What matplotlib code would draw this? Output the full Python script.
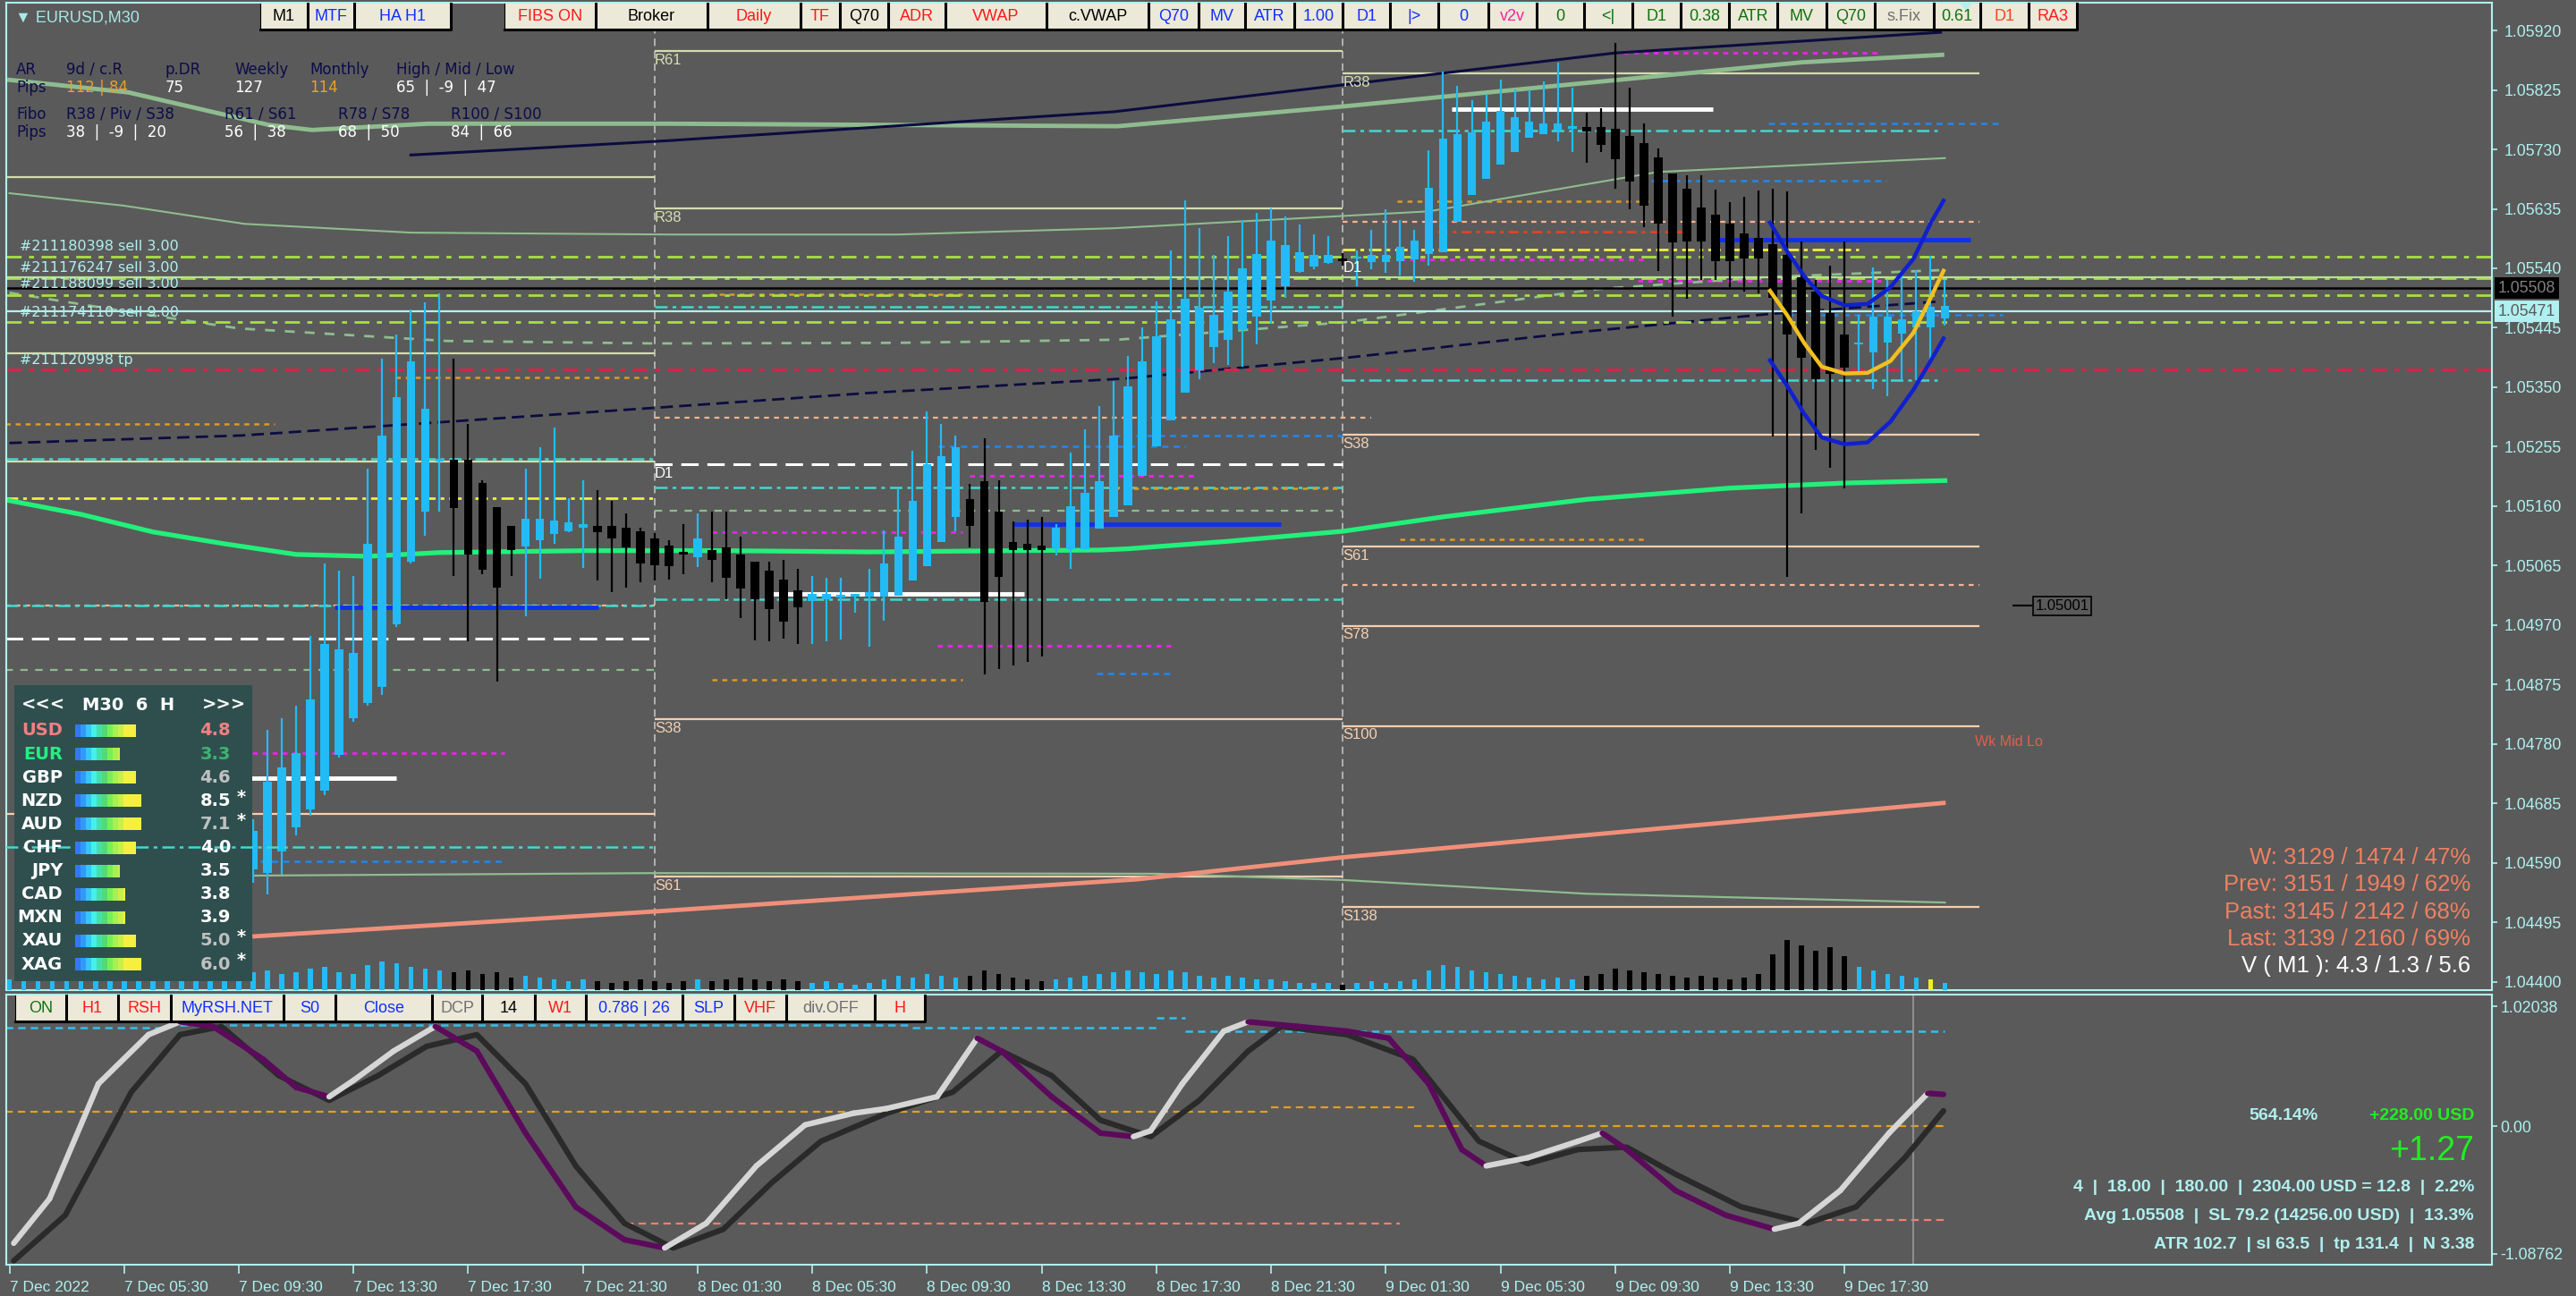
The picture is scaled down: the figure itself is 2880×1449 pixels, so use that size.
import numpy as np
import matplotlib.pyplot as plt
from matplotlib.patches import Rectangle, Polygon
from matplotlib.lines import Line2D
from matplotlib.collections import LineCollection

plt.rcParams['lines.scale_dashes'] = False
plt.rcParams['font.family'] = ['Liberation Sans', 'DejaVu Sans']

W, H = 2880, 1449
BG = '#5a5a5a'
AXC = '#b0f0f0'
BLUE = '#22bbf5'

# ---------------- data (bar index 0 = 7 Dec 01:30, M30) ----------------
first_bar = 17
ha_open = [1.04580, 1.04574, 1.04609, 1.04647, 1.04676, 1.04705, 1.04763, 1.04821, 1.04846, 1.04872,
           1.04972, 1.05072, 1.05152, 1.05231, 1.05234, 1.05234, 1.05197, 1.05159, 1.05129, 1.05095,
           1.05106, 1.05115, 1.05120, 1.05126, 1.05129, 1.05129, 1.05125, 1.05120, 1.05108, 1.05097,
           1.05087, 1.05078, 1.05090, 1.05094, 1.05083, 1.05071, 1.05057, 1.05043, 1.05026, 1.05009,
           1.05011, 1.05014, 1.05015, 1.05015, 1.05015, 1.05017, 1.05041, 1.05064, 1.05103, 1.05143,
           1.05171, 1.05200, 1.05152, 1.05103, 1.05100, 1.05097, 1.05092, 1.05092, 1.05092, 1.05124,
           1.05143, 1.05161, 1.05208, 1.05255, 1.05297, 1.05341, 1.05377, 1.05414, 1.05426, 1.05441,
           1.05463, 1.05489, 1.05512, 1.05534, 1.05543, 1.05549, 1.05554, 1.05555, 1.05550, 1.05550,
           1.05552, 1.05554, 1.05563, 1.05565, 1.05615, 1.05657, 1.05683, 1.05706, 1.05726, 1.05748,
           1.05754, 1.05760, 1.05763, 1.05766, 1.05766, 1.05763, 1.05751, 1.05740, 1.05717, 1.05692,
           1.05667, 1.05637, 1.05626, 1.05612, 1.05596, 1.05589, 1.05578, 1.05562, 1.05526, 1.05503,
           1.05469, 1.05434, 1.05418, 1.05406, 1.05421, 1.05435, 1.05446, 1.05446, 1.05460]
ha_close = [1.04641, 1.04720, 1.04743, 1.04765, 1.04851, 1.04940, 1.04931, 1.04926, 1.05100, 1.05273,
            1.05334, 1.05391, 1.05315, 1.05235, 1.05157, 1.05083, 1.05058, 1.05030, 1.05090, 1.05140,
            1.05140, 1.05137, 1.05134, 1.05131, 1.05118, 1.05109, 1.05094, 1.05069, 1.05066, 1.05064,
            1.05083, 1.05109, 1.05074, 1.05046, 1.05029, 1.05012, 1.04995, 1.04975, 1.04998, 1.05020,
            1.05020, 1.05018, 1.05020, 1.05023, 1.05069, 1.05111, 1.05169, 1.05227, 1.05240, 1.05254,
            1.05129, 1.05007, 1.05047, 1.05090, 1.05090, 1.05090, 1.05125, 1.05160, 1.05181, 1.05200,
            1.05273, 1.05352, 1.05391, 1.05431, 1.05459, 1.05491, 1.05477, 1.05466, 1.05503, 1.05540,
            1.05563, 1.05585, 1.05577, 1.05565, 1.05562, 1.05562, 1.05552, 1.05558, 1.05562, 1.05562,
            1.05574, 1.05585, 1.05668, 1.05747, 1.05754, 1.05757, 1.05774, 1.05791, 1.05782, 1.05774,
            1.05772, 1.05772, 1.05766, 1.05758, 1.05737, 1.05715, 1.05678, 1.05640, 1.05612, 1.05581,
            1.05583, 1.05583, 1.05552, 1.05552, 1.05555, 1.05555, 1.05493, 1.05434, 1.05397, 1.05363,
            1.05372, 1.05381, 1.05422, 1.05463, 1.05463, 1.05459, 1.05472, 1.05479, 1.05480]
ha_high = [1.04660, 1.04803, 1.04822, 1.04842, 1.04953, 1.05068, 1.05057, 1.05049, 1.05220, 1.05395,
           1.05434, 1.05474, 1.05486, 1.05500, 1.05395, 1.05291, 1.05202, 1.05159, 1.05129, 1.05220,
           1.05254, 1.05285, 1.05173, 1.05202, 1.05185, 1.05169, 1.05148, 1.05125, 1.05117, 1.05106,
           1.05132, 1.05148, 1.05152, 1.05152, 1.05111, 1.05071, 1.05071, 1.05074, 1.05060, 1.05049,
           1.05046, 1.05046, 1.05020, 1.05060, 1.05122, 1.05189, 1.05248, 1.05312, 1.05291, 1.05273,
           1.05196, 1.05268, 1.05202, 1.05135, 1.05139, 1.05143, 1.05132, 1.05245, 1.05283, 1.05320,
           1.05360, 1.05400, 1.05446, 1.05487, 1.05568, 1.05648, 1.05605, 1.05562, 1.05591, 1.05617,
           1.05628, 1.05636, 1.05623, 1.05610, 1.05594, 1.05591, 1.05564, 1.05569, 1.05602, 1.05634,
           1.05617, 1.05602, 1.05729, 1.05855, 1.05832, 1.05809, 1.05819, 1.05841, 1.05826, 1.05826,
           1.05839, 1.05869, 1.05828, 1.05789, 1.05796, 1.05900, 1.05828, 1.05772, 1.05731, 1.05692,
           1.05688, 1.05688, 1.05666, 1.05646, 1.05654, 1.05665, 1.05667, 1.05663, 1.05583, 1.05521,
           1.05544, 1.05583, 1.05465, 1.05541, 1.05521, 1.05531, 1.05537, 1.05560, 1.05521]
ha_low = [1.04558, 1.04540, 1.04571, 1.04634, 1.04666, 1.04698, 1.04759, 1.04816, 1.04842, 1.04858,
          1.04967, 1.05068, 1.05113, 1.05152, 1.05049, 1.04944, 1.05052, 1.04880, 1.05049, 1.04984,
          1.05044, 1.05100, 1.05119, 1.05062, 1.05041, 1.05023, 1.05030, 1.05039, 1.05041, 1.05043,
          1.05052, 1.05063, 1.05038, 1.05011, 1.04981, 1.04946, 1.04944, 1.04948, 1.04940, 1.04940,
          1.04944, 1.04947, 1.04990, 1.04935, 1.04977, 1.05017, 1.05041, 1.05064, 1.05103, 1.05120,
          1.05094, 1.04891, 1.04900, 1.04905, 1.04912, 1.04920, 1.05081, 1.05060, 1.05092, 1.05124,
          1.05143, 1.05161, 1.05208, 1.05255, 1.05297, 1.05341, 1.05363, 1.05389, 1.05386, 1.05383,
          1.05419, 1.05451, 1.05493, 1.05533, 1.05538, 1.05547, 1.05544, 1.05511, 1.05539, 1.05533,
          1.05529, 1.05519, 1.05544, 1.05565, 1.05615, 1.05657, 1.05683, 1.05706, 1.05726, 1.05748,
          1.05754, 1.05743, 1.05726, 1.05709, 1.05726, 1.05667, 1.05634, 1.05606, 1.05535, 1.05463,
          1.05492, 1.05521, 1.05521, 1.05510, 1.05503, 1.05500, 1.05272, 1.05047, 1.05149, 1.05250,
          1.05221, 1.05189, 1.05372, 1.05347, 1.05335, 1.05362, 1.05362, 1.05394, 1.05448]

volume = [12, 14, 10, 12, 16, 12, 10, 14, 12, 16, 18, 14, 12, 16, 14, 18, 16,
          20, 22, 18, 20, 24, 26, 20, 18, 28, 32, 30, 26, 24, 22,
          20, 22, 18, 20, 14, 16, 14, 12, 10, 12, 10, 8, 10, 12, 10,
          8, 10, 12, 10, 12, 14, 12, 10, 12, 10, 8, 10, 8, 6, 8,
          12, 16, 14, 18, 16, 14, 16, 22, 18, 14, 12, 10, 12, 14, 16, 18, 20, 22,
          20, 18, 22, 20, 16, 14, 16, 14, 12, 12, 10, 8, 8, 8, 6, 8, 10, 8, 10, 12,
          22, 28, 26, 22, 20, 18, 16, 14, 12, 14, 12, 16, 18, 24, 22, 20, 18, 16, 14, 16, 14, 12, 14, 18,
          40, 56, 50, 44, 48, 38, 26, 22, 18, 16, 14, 12, 8]

# moving averages (bar index, price)
ma_green_x = [0, 5, 10, 15, 20, 25, 30, 40, 50, 60, 70, 76, 78, 85, 93, 100, 110, 120, 128, 135]
ma_green_y = [1.05169, 1.05147, 1.05119, 1.05100, 1.05083, 1.05080, 1.05086, 1.05089, 1.05089, 1.05087,
              1.05089, 1.05090, 1.05092, 1.05104, 1.05120, 1.05143, 1.05171, 1.05189, 1.05197, 1.05201]
ma_sage_x = [0, 8.3, 18.1, 21.1, 29.2, 39, 46, 77.3, 93.2, 109, 125, 134.8]
ma_sage_y = [1.05841, 1.05821, 1.05769, 1.05761, 1.05771, 1.05771, 1.05771, 1.05767, 1.05799, 1.05834,
             1.05869, 1.05881]
ma_thin_x = [0, 8, 16.4, 28, 46, 62, 77, 99, 115, 135]
ma_thin_y = [1.05660, 1.05640, 1.05611, 1.05597, 1.05594, 1.05594, 1.05604, 1.05631, 1.05694, 1.05716]
ma_navy_x = [28, 34.4, 46, 77, 112, 134.7]
ma_navy_y = [1.05721, 1.05729, 1.05744, 1.05790, 1.05884, 1.05917]
ma_navy2_x = [0, 16.2, 29.9, 44.9, 60, 77.8, 93.2, 109, 122.7, 134.6]
ma_navy2_y = [1.05261, 1.05273, 1.05294, 1.05317, 1.05341, 1.05364, 1.05397, 1.05437, 1.05467, 1.05487]
ma_salmon_x = [17.1, 45.2, 62.7, 78.6, 92.9, 114, 134.9]
ma_salmon_y = [1.04473, 1.04513, 1.04540, 1.04564, 1.04599, 1.04643, 1.04686]
ma_pale_x = [17, 45, 80, 93, 110, 135]
ma_pale_y = [1.04570, 1.04574, 1.04573, 1.04563, 1.04541, 1.04527]
ma_dash_x = [0, 7.6, 16, 30.5, 45, 62, 77.3, 93.2, 110.8, 122.7, 134.6]
ma_dash_y = [1.05501, 1.05473, 1.05444, 1.05424, 1.05420, 1.05421, 1.05426, 1.05454, 1.05507, 1.05526, 1.05537]

# channel curves on the last bars
chan_x = [122.8, 124.0, 125.2, 126.4, 128.0, 129.6, 131.2, 132.8, 134.0, 134.9]
chan_up = [1.05613, 1.05567, 1.05527, 1.05496, 1.05481, 1.05483, 1.05510, 1.05555, 1.05612, 1.05648]
chan_mid = [1.05504, 1.05465, 1.05420, 1.05383, 1.05372, 1.05373, 1.05392, 1.05437, 1.05493, 1.05536]
chan_lo = [1.05393, 1.05352, 1.05307, 1.05270, 1.05259, 1.05262, 1.05295, 1.05346, 1.05392, 1.05428]

# pivot / fibo levels: (start bar, end bar, price)
lv_light = [(45, 93, 1.05887), (45, 93, 1.05636), (93, 137.4, 1.05851), (-0.3, 45, 1.05686),
            (-0.3, 45, 1.05404), (-0.3, 45, 1.05231)]
lv_peach = [(45, 93, 1.04820), (45, 93, 1.04568), (93, 137.4, 1.05274), (93, 137.4, 1.05096),
            (93, 137.4, 1.04969), (93, 137.4, 1.04809), (93, 137.4, 1.04520), (-0.3, 45, 1.04668)]
lv_white_dash = [(45, 93, 1.05227), (-0.3, 45, 1.04948)]
lv_peach_dot = [(45, 95, 1.05302), (93, 137.4, 1.05614), (93, 137.4, 1.05034), (-0.3, 45, 1.05001)]
lv_cyan = [(-0.3, 45, 1.05236), (-0.3, 45, 1.05001), (45, 93, 1.05479), (45, 93, 1.05190),
           (45, 93, 1.05011), (93, 134.5, 1.05760), (93, 134.5, 1.05362)]
lv_cyan_top = [(-0.3, 45, 1.04616)]
lv_yellow = [(-0.3, 45, 1.05173), (93, 129, 1.05570)]
lv_orange = [(48.8, 66.5, 1.05499), (26.9, 44.5, 1.05365), (-0.3, 18.5, 1.05291), (49, 66.5, 1.04883),
             (96.8, 114.3, 1.05647), (97, 114, 1.05107), (77, 93, 1.05188)]
lv_magenta = [(49, 66.5, 1.05119), (67, 82.6, 1.05208), (64.7, 81, 1.04937), (10, 34.5, 1.04765),
              (97, 114, 1.05554), (113.6, 130.9, 1.05520), (112.6, 130.3, 1.05884)]
lv_blue_dot = [(64.8, 82, 1.05256), (17.5, 34.5, 1.04593), (75.8, 81, 1.04893), (122.7, 139, 1.05771),
               (114.5, 130.9, 1.05680), (77, 93, 1.05273), (124, 139, 1.05465)]
lv_redorange = [(99.6, 117, 1.05599), (54, 56, 1.05022)]
lv_blue_thick = [(22.7, 41.1, 1.04998), (70, 88.7, 1.05132), (119, 136.8, 1.05586)]
lv_white_thick = [(53.2, 70.8, 1.05020), (10, 27, 1.04726), (100.6, 118.8, 1.05794)]
lv_green_dash = [(-0.3, 45, 1.04899), (45, 93, 1.05153)]

# order lines across the chart
orders_yg = [1.05559, 1.05524, 1.05497, 1.05454]
order_labels = ['#211180398 sell 3.00', '#211176247 sell 3.00', '#211188099 sell 3.00', '#211174110 sell 9.00',
                '#211120998 tp']
order_label_y = [275, 299, 318, 349, 402]
tp_line = 1.05379
avg_price = 1.05508
bid_price = 1.05471
pale_solid = 1.05526

level_labels = [(45, 1.05887, 'R61', '#d8e0b0'), (45, 1.05636, 'R38', '#d8e0b0'), (45, 1.05227, 'D1', '#ffffff'),
                (45, 1.04820, 'S38', '#f8d0b0'), (45, 1.04568, 'S61', '#f8d0b0'),
                (93, 1.05851, 'R38', '#d8e0b0'), (93, 1.05556, 'D1', '#ffffff'), (93, 1.05274, 'S38', '#f8d0b0'),
                (93, 1.05096, 'S61', '#f8d0b0'), (93, 1.04969, 'S78', '#f8d0b0'), (93, 1.04809, 'S100', '#f8d0b0'),
                (93, 1.04520, 'S138', '#f8d0b0')]

price_ticks = [1.05920, 1.05825, 1.05730, 1.05635, 1.05540, 1.05445, 1.05350, 1.05255, 1.05160,
               1.05065, 1.04970, 1.04875, 1.04780, 1.04685, 1.04590, 1.04495, 1.04400]
time_ticks = list(range(0, 129, 8))
time_labels = ['7 Dec 2022', '7 Dec 05:30', '7 Dec 09:30', '7 Dec 13:30', '7 Dec 17:30', '7 Dec 21:30',
               '8 Dec 01:30', '8 Dec 05:30', '8 Dec 09:30', '8 Dec 13:30', '8 Dec 17:30', '8 Dec 21:30',
               '9 Dec 01:30', '9 Dec 05:30', '9 Dec 09:30', '9 Dec 13:30', '9 Dec 17:30']

# oscillator (bar index, value)
osc_fast_x = [0.3, 2.8, 6.2, 9.7, 11.9, 14.2, 17.7, 20.0, 22.3, 24.0, 26.8, 29.7, 32.6, 36.0, 39.5, 42.9,
              45.7, 48.6, 52.1, 55.5, 58.9, 61.2, 64.7, 67.5, 69.2, 72.7, 76.1, 78.4, 79.6, 81.8, 84.7,
              86.4, 89.9, 93.3, 96.2, 99.0, 101.3, 103.0, 105.9, 109.4, 111.1, 112.8, 116.2, 119.7,
              123.1, 124.8, 127.7, 131.1, 133.8, 134.9]
osc_fast = [-1.00, -0.62, 0.36, 0.78, 0.89, 0.85, 0.57, 0.33, 0.25, 0.39, 0.64, 0.85, 0.64, -0.06, -0.69,
            -0.97, -1.04, -0.83, -0.34, 0.01, 0.11, 0.15, 0.25, 0.75, 0.64, 0.25, -0.06, -0.09, -0.04,
            0.36, 0.81, 0.89, 0.85, 0.81, 0.75, 0.36, -0.20, -0.34, -0.27, -0.13, -0.06, -0.20, -0.55,
            -0.76, -0.88, -0.83, -0.55, -0.06, 0.28, 0.27]
osc_slow_x = [0.3, 3.9, 8.5, 11.9, 14.8, 18.8, 22.3, 25.7, 29.1, 32.6, 36.0, 39.5, 42.9, 46.3, 49.8, 53.2,
              56.6, 61.2, 65.8, 69.2, 72.7, 76.1, 79.6, 83.0, 86.4, 88.7, 93.3, 97.9, 100.2, 102.5, 105.9,
              109.4, 112.8, 116.2, 120.8, 125.4, 128.8, 132.2, 134.9]
osc_slow = [-1.15, -0.76, 0.29, 0.78, 0.85, 0.43, 0.22, 0.43, 0.68, 0.78, 0.36, -0.34, -0.83, -1.04, -0.88,
            -0.48, -0.13, 0.11, 0.29, 0.64, 0.43, 0.05, -0.09, 0.22, 0.64, 0.85, 0.78, 0.57, 0.22, -0.13,
            -0.32, -0.20, -0.18, -0.41, -0.69, -0.83, -0.69, -0.27, 0.13]
osc_cyan = [(-0.3, 11, 0.84), (11, 63, 0.86), (63, 80, 0.84), (80, 82, 0.92), (82, 135, 0.81)]
osc_orange = [(-0.3, 88, 0.12), (88, 98, 0.16), (98, 135, 0.0)]
osc_salmon = [(43, 97, -0.83), (124, 135, -0.80)]
osc_ticks = [1.02038, 0.0, -1.08762]
osc_tick_labels = ['1.02038', '0.00', '-1.08762']

# currency strength panel
cur_names = ['USD', 'EUR', 'GBP', 'NZD', 'AUD', 'CHF', 'JPY', 'CAD', 'MXN', 'XAU', 'XAG']
cur_vals = ['4.8', '3.3', '4.6', '8.5', '7.1', '4.0', '3.5', '3.8', '3.9', '5.0', '6.0']
cur_bar = [68, 50, 68, 74, 74, 68, 50, 56, 56, 68, 74]
cur_star = [False, False, False, True, True, False, False, False, False, True, True]
cur_name_col = ['#f08080', '#22f080'] + ['#ffffff'] * 9
cur_val_col = ['#f08080', '#3cb371', '#c0c0c0', '#ffffff', '#c0c0c0', '#ffffff', '#ffffff', '#ffffff',
               '#ffffff', '#c0c0c0', '#c0c0c0']

# ---------------- figure ----------------
fig = plt.figure(figsize=(W / 100, H / 100), dpi=100, facecolor=BG)


def fx(x):
    return x / W


def fy(y):
    return 1 - y / H


ax = fig.add_axes([fx(7), fy(1107), (2786 - 7) / W, (1107 - 3) / H], facecolor=BG)
YMIN, YMAX = 1.043871, 1.059643
XMIN, XMAX = -0.22, 173.15
PX = (YMAX - YMIN) / 1104.0

for a in ['top', 'bottom', 'left', 'right']:
    ax.spines[a].set_color(AXC)
    ax.spines[a].set_linewidth(1.5)

ax.axvline(45, color='#b8b8b8', lw=1.3, ls=(0, (6, 4)), zorder=1)
ax.axvline(93, color='#b8b8b8', lw=1.3, ls=(0, (6, 4)), zorder=1)


def levels(lst, color, lw, ls='-', z=2):
    for i0, i1, p in lst:
        ax.hlines(p, i0, i1, colors=color, lw=lw, linestyles=[ls], zorder=z)


levels(lv_light, '#d4dcae', 1.6)
levels(lv_peach, '#f8cfae', 1.6)
levels(lv_white_dash, '#ffffff', 2.2, (0, (14, 7)))
levels(lv_peach_dot, '#f4b494', 1.6, (0, (4, 4)))
levels(lv_cyan, '#40d8d0', 1.8, (0, (10, 4, 3, 4)))
levels(lv_yellow, '#f0f040', 2.0, (0, (10, 4, 3, 4)))
levels(lv_orange, '#e09a20', 1.8, (0, (4, 4)))
levels(lv_magenta, '#f020f0', 2.0, (0, (4, 4)))
levels(lv_blue_dot, '#2088f0', 1.8, (0, (5, 4)))
levels(lv_redorange, '#f04020', 1.8, (0, (8, 4, 3, 4)))
levels(lv_blue_thick, '#1030f0', 3.5)
levels(lv_white_thick, '#ffffff', 3.5)
levels(lv_green_dash, '#8fbc8f', 1.6, (0, (6, 6)))

# moving averages
ax.plot(ma_sage_x, ma_sage_y, color='#8fbc8f', lw=3.5, zorder=2)
ax.plot(ma_thin_x, ma_thin_y, color='#8fbc8f', lw=1.5, zorder=2)
ax.plot(ma_navy_x, ma_navy_y, color='#0c0c40', lw=2.2, zorder=2)
ax.plot(ma_navy2_x, ma_navy2_y, color='#0c0c40', lw=2.0, ls=(0, (10, 5)), zorder=2)
ax.plot(ma_dash_x, ma_dash_y, color='#8fbc8f', lw=2.0, ls=(0, (8, 8)), zorder=2)
ax.plot(ma_pale_x, ma_pale_y, color='#8fbc8f', lw=1.6, zorder=2)
ax.plot(ma_salmon_x, ma_salmon_y, color='#f0907a', lw=3.5, zorder=2)
ax.plot(ma_green_x, ma_green_y, color='#22f07a', lw=3.8, zorder=2)

# order lines
for p in orders_yg:
    ax.axhline(p, color='#a8e040', lw=2.0, ls=(0, (12, 6, 4, 6)), zorder=2)
ax.axhline(pale_solid, color='#b8e098', lw=1.6, zorder=2)
ax.axhline(tp_line, color='#e0204a', lw=2.0, ls=(0, (12, 6, 4, 6)), zorder=2)
ax.axhline(avg_price, color='#000000', lw=1.8, zorder=2)
ax.axhline(bid_price, color=AXC, lw=1.6, zorder=2)

# volume
for k, v in enumerate(volume):
    col = BLUE
    if k >= first_bar:
        j = k - first_bar
        col = BLUE if ha_close[j] >= ha_open[j] else '#000000'
    if k == 134:
        col = '#f0f020'
    ax.bar(k, v * PX, bottom=YMIN, width=0.35, color=col, zorder=3)

# candles
for j in range(len(ha_open)):
    i = first_bar + j
    o, c = ha_open[j], ha_close[j]
    col = BLUE if c >= o else '#000000'
    ax.vlines(i, ha_low[j], ha_high[j], colors=col, lw=1.6, zorder=4)
    ax.bar(i, max(abs(c - o), 2.5 * PX), bottom=min(o, c), width=0.6, color=col, zorder=4)

# channel
ax.plot(chan_x, chan_up, color='#1020d0', lw=3.2, zorder=5)
ax.plot(chan_x, chan_lo, color='#1020d0', lw=3.2, zorder=5)
ax.plot(chan_x, chan_mid, color='#f0c020', lw=3.2, zorder=5)

for x, p, t, c in level_labels:
    ax.annotate(t, (x, p), xytext=(0, -2), textcoords='offset points', va='top', ha='left',
                color=c, fontsize=12, zorder=6)
ax.text(137.1, 1.04783, 'Wk Mid Lo', color='#e06050', fontsize=11.5, va='center', ha='left', zorder=6)
ax.hlines(1.05001, 139.7, 141.1, colors='#000000', lw=1.5, zorder=6)
ax.text(141.3, 1.05001, '1.05001', color='#000000', fontsize=12, va='center', ha='left', zorder=6,
        bbox=dict(fc=BG, ec='#000000', lw=1.2, pad=2))

ax.set_xlim(XMIN, XMAX)
ax.set_ylim(YMIN, YMAX)
ax.set_xticks([])
ax.yaxis.tick_right()
ax.set_yticks(price_ticks)
ax.set_yticklabels([f'{p:.5f}' for p in price_ticks])
ax.tick_params(axis='y', colors=AXC, labelsize=12.8, length=4, width=1.2, pad=6)

# price markers on the axis
ax.text(1.0025, avg_price, '1.05508', transform=ax.get_yaxis_transform(), color='#808080', fontsize=12.8,
        va='center', ha='left', bbox=dict(fc='#000000', ec='none', pad=2.5), clip_on=False, zorder=8)
ax.text(1.0025, bid_price, '1.05471', transform=ax.get_yaxis_transform(), color='#5a5a5a', fontsize=12.8,
        va='center', ha='left', bbox=dict(fc=AXC, ec='none', pad=2.5), clip_on=False, zorder=8)

# currency panel (inside main axes, on top of the candles)
tf = fig.transFigure
ax.add_patch(Rectangle((fx(16), fy(1097)), 266 / W, 331 / H, transform=tf, fc='#2f4f4f', ec='none', zorder=10))
for i0, i1, p in lv_cyan_top:
    ax.hlines(p, i0, i1, colors='#40d8d0', lw=1.8, linestyles=[(0, (10, 4, 3, 4))], zorder=11)
grad = ['#3377f5', '#3399f8', '#33c8f8', '#44f0e8', '#44e0aa', '#55d877', '#77f055', '#a8f050', '#c8f048', '#f5f040']
for x, t in [(48, '<<<'), (144, 'M30  6  H'), (250, '>>>')]:
    ax.text(fx(x), fy(788), t, transform=tf, color='#ffffff', fontsize=14, fontweight='bold',
            family='DejaVu Sans', ha='center', va='center', zorder=12)
for r, name in enumerate(cur_names):
    y = 817 + r * 26.1
    ax.text(fx(70), fy(y), name, transform=tf, color=cur_name_col[r], fontsize=14, fontweight='bold',
            family='DejaVu Sans', ha='right', va='center', zorder=12)
    x = 84
    while x < 84 + cur_bar[r]:
        w = min(6, 84 + cur_bar[r] - x)
        ax.add_patch(Rectangle((fx(x), fy(y + 7)), w / W, 14 / H, transform=tf,
                               fc=grad[min((x - 84) // 6, 9)], ec='none', zorder=11))
        x += 6
    ax.text(fx(258), fy(y), cur_vals[r], transform=tf, color=cur_val_col[r], fontsize=14, fontweight='bold',
            family='DejaVu Sans', ha='right', va='center', zorder=12)
    if cur_star[r]:
        ax.text(fx(270), fy(y - 4), '*', transform=tf, color='#ffffff', fontsize=14, fontweight='bold',
                family='DejaVu Sans', ha='center', va='center', zorder=12)

# ---------------- oscillator ----------------
ax2 = fig.add_axes([fx(7), fy(1414), (2786 - 7) / W, (1414 - 1112) / H], facecolor=BG)
for a in ['top', 'bottom', 'left', 'right']:
    ax2.spines[a].set_color(AXC)
    ax2.spines[a].set_linewidth(1.5)
for i0, i1, v in osc_cyan:
    ax2.hlines(v, i0, i1, colors='#30c0f0', lw=1.8, linestyles=[(0, (6, 4))])
for i0, i1, v in osc_orange:
    ax2.hlines(v, i0, i1, colors='#e0a020', lw=1.6, linestyles=[(0, (6, 4))])
for i0, i1, v in osc_salmon:
    ax2.hlines(v, i0, i1, colors='#f08070', lw=1.6, linestyles=[(0, (6, 4))])
ax2.axvline(132.8, color='#9a9a9a', lw=1.2)
ax2.plot(osc_slow_x, osc_slow, color='#2a2a2a', lw=4.5, solid_capstyle='round')
pts = np.column_stack([osc_fast_x, osc_fast])
segs = np.stack([pts[:-1], pts[1:]], axis=1)
cols = ['#d6d6d6' if b >= a else '#5c0a5c' for a, b in zip(osc_fast[:-1], osc_fast[1:])]
ax2.add_collection(LineCollection(segs, colors=cols, linewidths=4.5, capstyle='round'))
ax2.set_xlim(XMIN, XMAX)
ax2.set_ylim(-1.183, 1.122)
ax2.yaxis.tick_right()
ax2.set_yticks(osc_ticks)
ax2.set_yticklabels(osc_tick_labels)
ax2.tick_params(axis='y', colors=AXC, labelsize=12.8, length=4, width=1.2, pad=3)
ax2.set_xticks(time_ticks)
ax2.set_xticklabels(time_labels)
ax2.tick_params(axis='x', colors=AXC, labelsize=12.5, length=7, width=1.2, pad=6)
for lbl in ax2.get_xticklabels():
    lbl.set_ha('left')

# ---------------- toolbars ----------------


def button(x0, x1, y0, y1, label, color):
    fig.add_artist(Rectangle((fx(x0), fy(y1)), (x1 - x0) / W, (y1 - y0) / H, transform=tf,
                             fc='#ece9d8', ec='none', zorder=5))
    fig.add_artist(Line2D([fx(x0), fx(x1), fx(x1)], [fy(y1), fy(y1), fy(y0)], transform=tf,
                          color='#000000', lw=2.2, zorder=6))
    fig.add_artist(Line2D([fx(x0), fx(x0)], [fy(y0), fy(y1)], transform=tf, color='#000000', lw=0.8, zorder=6))
    fig.text((fx(x0) + fx(x1)) / 2, fy((y0 + y1) / 2), label, color=color, ha='center', va='center',
             fontsize=13, zorder=7)


top_labels = ['M1', 'MTF', 'HA H1']
top_cols = ['#000000', '#1030ff', '#1030ff']
top_edges = [291, 344, 396, 504]
top_labels2 = ['FIBS ON', 'Broker', 'Daily', 'TF', 'Q70', 'ADR', 'VWAP', 'c.VWAP', 'Q70', 'MV', 'ATR',
               '1.00', 'D1', '|>', '0', 'v2v', '0', '<|', 'D1', '0.38', 'ATR', 'MV', 'Q70', 's.Fix', '0.61',
               'D1', 'RA3']
RED, BLU, GRN = '#ff1818', '#1030ff', '#107010'
top_cols2 = [RED, '#000000', RED, RED, '#000000', RED, RED, '#000000', BLU, BLU, BLU, BLU, BLU, BLU, BLU,
             '#ff20a0', GRN, GRN, GRN, GRN, GRN, GRN, GRN, '#707070', GRN, '#ff4020', RED]
top_edges2 = [564, 666, 791, 895, 939, 993, 1057, 1170, 1284, 1340, 1392, 1447, 1501, 1554, 1608, 1664,
              1718, 1771, 1825, 1879, 1933, 1987, 2042, 2096, 2162, 2214, 2268, 2322]
for k, t in enumerate(top_labels):
    button(top_edges[k], top_edges[k + 1], 4, 33, t, top_cols[k])
for k, t in enumerate(top_labels2):
    button(top_edges2[k], top_edges2[k + 1], 4, 33, t, top_cols2[k])

bot_labels = ['ON', 'H1', 'RSH', 'MyRSH.NET', 'S0', 'Close', 'DCP', '14', 'W1', '0.786 | 26', 'SLP', 'VHF',
              'div.OFF', 'H']
bot_cols = [GRN, RED, RED, BLU, BLU, BLU, '#707070', '#000000', RED, BLU, BLU, RED, '#707070', RED]
bot_edges = [17, 74, 132, 191, 317, 375, 483, 539, 598, 655, 763, 821, 879, 978, 1034]
for k, t in enumerate(bot_labels):
    button(bot_edges[k], bot_edges[k + 1], 1113, 1142, t, bot_cols[k])

fig.add_artist(Polygon([[fx(2191), fy(3)], [fx(2205), fy(3)], [fx(2198), fy(12)]], closed=True,
                       transform=tf, fc=AXC, ec='none', zorder=6))

# ---------------- text blocks ----------------
fig.text(fx(17), fy(20), '\u25bc EURUSD,M30', color='#a8e8e8', fontsize=13, va='center', ha='left')

NAVY, WHITE, ORNG = '#0c0c4a', '#ffffff', '#e8a030'
info = [(18, 78, 'AR', NAVY), (74, 78, '9d / c.R', NAVY), (185, 78, 'p.DR', NAVY), (262, 78, 'Weekly', NAVY),
        (346, 78, 'Monthly', NAVY), (443, 78, 'High / Mid / Low', NAVY),
        (18, 98, 'Pips', NAVY), (74, 98, '112 | 84', ORNG), (185, 98, '75', WHITE), (262, 98, '127', WHITE),
        (346, 98, '114', ORNG), (443, 98, '65  |  -9  |  47', WHITE),
        (18, 128, 'Fibo', NAVY), (74, 128, 'R38 / Piv / S38', NAVY), (251, 128, 'R61 / S61', NAVY),
        (378, 128, 'R78 / S78', NAVY), (504, 128, 'R100 / S100', NAVY),
        (18, 148, 'Pips', NAVY), (74, 148, '38  |  -9  |  20', WHITE), (251, 148, '56  |  38', WHITE),
        (378, 148, '68  |  50', WHITE), (504, 148, '84  |  66', WHITE)]
for x, y, t, c in info:
    fig.text(fx(x), fy(y), t, color=c, fontsize=12, family='DejaVu Sans', va='center', ha='left')

for t, y in zip(order_labels, order_label_y):
    fig.text(fx(22), fy(y), t, color=AXC, fontsize=11.5, family='DejaVu Sans', va='center', ha='left')

stats = ['W: 3129 / 1474 / 47%', 'Prev: 3151 / 1949 / 62%', 'Past: 3145 / 2142 / 68%', 'Last: 3139 / 2160 / 69%',
         'V ( M1 ): 4.3 / 1.3 / 5.6']
for k, t in enumerate(stats):
    fig.text(fx(2762), fy(959 + 30.3 * k), t, color='#f08060' if k < 4 else '#ffffff', fontsize=18.5,
             va='center', ha='right')

fig.text(fx(2592), fy(1248), '564.14%', color=AXC, fontsize=14, fontweight='bold', va='center', ha='right')
fig.text(fx(2766), fy(1248), '+228.00 USD', color='#22ee22', fontsize=14, fontweight='bold', va='center', ha='right')
fig.text(fx(2766), fy(1287), '+1.27', color='#22ee22', fontsize=27, va='center', ha='right')
trade = ['4  |  18.00  |  180.00  |  2304.00 USD = 12.8  |  2.2%',
         'Avg 1.05508  |  SL 79.2 (14256.00 USD)  |  13.3%',
         'ATR 102.7  | sl 63.5  |  tp 131.4  |  N 3.38']
for k, t in enumerate(trade):
    fig.text(fx(2766), fy(1327 + 32.5 * k), t, color=AXC, fontsize=14, fontweight='bold', va='center', ha='right')

fig.savefig('out.png', dpi=100, facecolor=BG)
